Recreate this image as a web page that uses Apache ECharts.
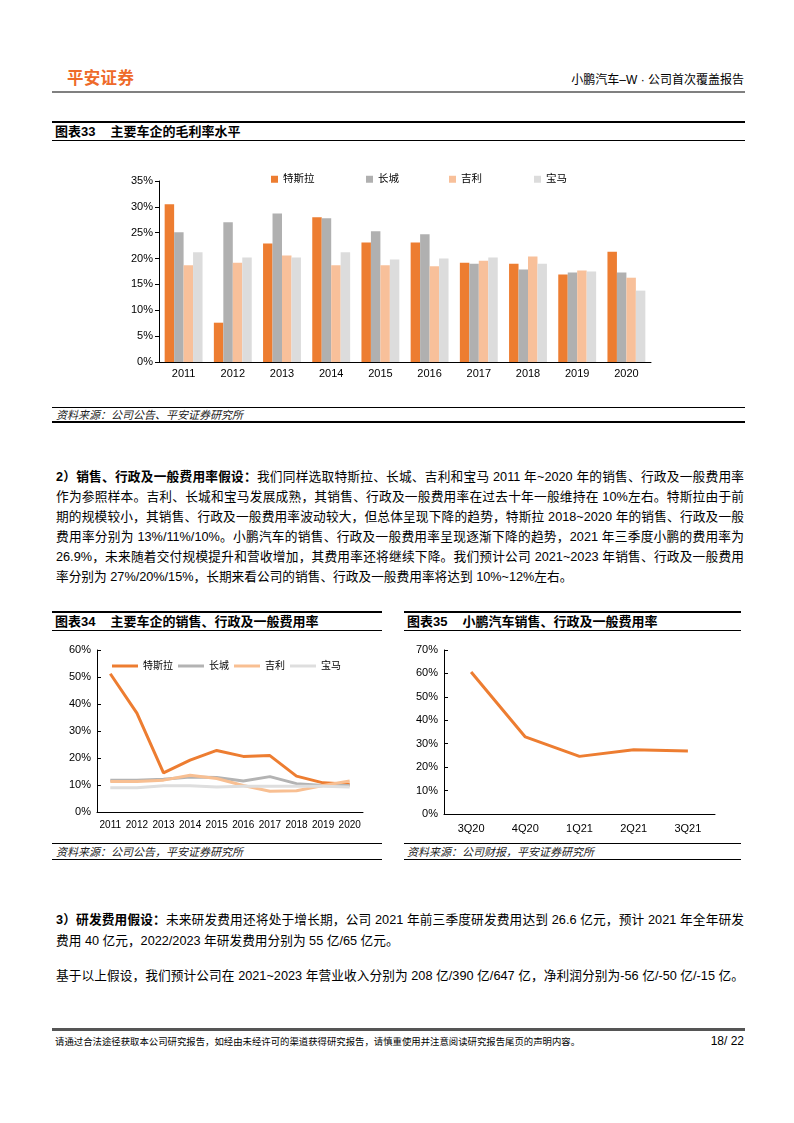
<!DOCTYPE html>
<html><head><meta charset="utf-8">
<script src="https://cdn.jsdelivr.net/npm/echarts@6/dist/echarts.min.js"></script>
<style>
body{margin:0;background:#fff;width:794px;height:1123px;position:relative;overflow:hidden;font-family:"Liberation Sans",Arial,"Noto Sans CJK SC",sans-serif;color:#000}
.a{position:absolute}
.ln{position:absolute;background:#000}
.ttl{position:absolute;font-size:13px;font-weight:bold;line-height:15px;white-space:nowrap}
.ttl span{display:inline-block;width:15px}
.src{position:absolute;font-size:11px;font-style:italic;line-height:13px;color:#222;white-space:nowrap}
.pl{position:absolute;left:56px;width:688px;font-size:12.7px;line-height:16px;white-space:nowrap;text-align:justify;text-align-last:justify}
.pl.last{text-align:left;text-align-last:left}
</style></head>
<body>
<div class="a" style="left:67px;top:68px;font-size:16.5px;font-weight:bold;color:#EE6A2A;line-height:20px;letter-spacing:0.3px">平安证券</div>
<div class="a" style="right:50px;top:73px;font-size:12px;line-height:14px;white-space:nowrap">小鹏汽车–W · 公司首次覆盖报告</div>
<div class="ln" style="left:52px;width:693px;top:91px;height:2px;background:#808080"></div>

<div class="ln" style="left:52px;width:693px;top:121px;height:2px"></div>
<div class="ttl" style="left:55px;top:124px">图表33<span></span>主要车企的毛利率水平</div>
<div class="ln" style="left:52px;width:693px;top:140px;height:1px"></div>
<div id="c33" class="a" style="left:52px;top:150px;width:700px;height:240px"></div>
<div class="ln" style="left:52px;width:693px;top:407px;height:1px"></div>
<div class="src" style="left:56px;top:409px">资料来源：公司公告、平安证券研究所</div>
<div class="ln" style="left:52px;width:693px;top:421px;height:2px"></div>

<div class="pl" style="top:469px"><b>2）销售、行政及一般费用率假设：</b>我们同样选取特斯拉、长城、吉利和宝马 2011 年~2020 年的销售、行政及一般费用率</div>
<div class="pl" style="top:489px">作为参照样本。吉利、长城和宝马发展成熟，其销售、行政及一般费用率在过去十年一般维持在 10%左右。特斯拉由于前</div>
<div class="pl" style="top:509px">期的规模较小，其销售、行政及一般费用率波动较大，但总体呈现下降的趋势，特斯拉 2018~2020 年的销售、行政及一般</div>
<div class="pl" style="top:529px">费用率分别为 13%/11%/10%。小鹏汽车的销售、行政及一般费用率呈现逐渐下降的趋势，2021 年三季度小鹏的费用率为</div>
<div class="pl" style="top:549px">26.9%，未来随着交付规模提升和营收增加，其费用率还将继续下降。我们预计公司 2021~2023 年销售、行政及一般费用</div>
<div class="pl last" style="top:569px">率分别为 27%/20%/15%，长期来看公司的销售、行政及一般费用率将达到 10%~12%左右。</div>

<div class="ln" style="left:52px;width:330px;top:611px;height:2px"></div>
<div class="ttl" style="left:55px;top:614px">图表34<span></span>主要车企的销售、行政及一般费用率</div>
<div class="ln" style="left:52px;width:330px;top:630px;height:1px"></div>
<div class="ln" style="left:404px;width:337px;top:611px;height:2px"></div>
<div class="ttl" style="left:407px;top:614px">图表35<span></span>小鹏汽车销售、行政及一般费用率</div>
<div class="ln" style="left:404px;width:337px;top:630px;height:1px"></div>
<div id="c34" class="a" style="left:52px;top:640px;width:330px;height:200px"></div>
<div id="c35" class="a" style="left:400px;top:640px;width:345px;height:200px"></div>
<div class="ln" style="left:52px;width:330px;top:843px;height:1px"></div>
<div class="src" style="left:56px;top:846px">资料来源：公司公告，平安证券研究所</div>
<div class="ln" style="left:52px;width:330px;top:859px;height:1px"></div>
<div class="ln" style="left:404px;width:337px;top:843px;height:1px"></div>
<div class="src" style="left:407px;top:846px">资料来源：公司财报，平安证券研究所</div>
<div class="ln" style="left:404px;width:337px;top:859px;height:1px"></div>

<div class="pl" style="top:912px"><b>3）研发费用假设：</b>未来研发费用还将处于增长期，公司 2021 年前三季度研发费用达到 26.6 亿元，预计 2021 年全年研发</div>
<div class="pl last" style="top:933px">费用 40 亿元，2022/2023 年研发费用分别为 55 亿/65 亿元。</div>
<div class="pl" style="top:968px">基于以上假设，我们预计公司在 2021~2023 年营业收入分别为 208 亿/390 亿/647 亿，净利润分别为-56 亿/-50 亿/-15 亿。</div>

<div class="ln" style="left:52px;width:693px;top:1028px;height:3px;background:#555"></div>
<div class="a" style="left:55px;top:1036px;font-size:9.4px;line-height:11px;white-space:nowrap">请通过合法途径获取本公司研究报告，如经由未经许可的渠道获得研究报告，请慎重使用并注意阅读研究报告尾页的声明内容。</div>
<div class="a" style="right:50px;top:1034px;font-size:12px;line-height:14px;white-space:nowrap">18/ 22</div>

<script>
// ---- data ----
const years = ['2011','2012','2013','2014','2015','2016','2017','2018','2019','2020'];
const seriesNames = ['特斯拉','长城','吉利','宝马'];
// 图表33 毛利率 (%)
const tesla33 = [30.5, 7.6, 22.9, 28.0, 23.1, 23.1, 19.2, 19.0, 16.9, 21.3];
const gw33    = [25.1, 27.0, 28.7, 27.8, 25.3, 24.7, 19.0, 17.9, 17.3, 17.3];
const geely33 = [18.7, 19.2, 20.6, 18.7, 18.7, 18.5, 19.6, 20.4, 17.7, 16.3];
const bmw33   = [21.2, 20.2, 20.2, 21.2, 19.8, 20.0, 20.2, 19.0, 17.5, 13.8];
// 图表34 销售、行政及一般费用率 (%)
const tesla34 = [51.2, 36.6, 14.5, 19.2, 22.8, 20.6, 20.9, 13.3, 10.8, 10.3];
const gw34    = [11.8, 11.8, 12.1, 13.0, 12.8, 11.5, 13.1, 10.5, 9.8, 9.8];
const geely34 = [11.3, 11.3, 11.8, 13.6, 12.4, 9.8, 7.7, 7.9, 9.8, 11.5];
const bmw34   = [9.0, 9.0, 9.7, 9.7, 9.3, 9.5, 9.5, 9.5, 9.5, 9.3];
// 图表35 小鹏汽车
const quarters = ['3Q20','4Q20','1Q21','2Q21','3Q21'];
const xpeng35  = [60.6, 32.9, 24.6, 27.4, 26.9];

const barColors = ['#ED7D31','#B0B0B0','#F8C09A','#DCDCDC'];
const lineColors = ['#ED7D31','#B3B3B3','#F8BF92','#DEDEDE'];
const FF = '"Liberation Sans", Arial, "Noto Sans CJK SC", sans-serif';

function yAx(max, inside){
  return {type:'value',min:0,max:max,interval:10,
    axisLine:{show:true,lineStyle:{color:'#000',width:1}},
    axisTick:{show:true,inside:inside,length:4,lineStyle:{color:'#000'}},
    splitLine:{show:false},
    axisLabel:{formatter:'{value}%',color:'#000',fontSize:11,margin:6,fontFamily:FF}};
}

// Chart 33 - one legend per item to reproduce the evenly spaced slots
const c33 = echarts.init(document.getElementById('c33'));
const d33 = [tesla33, gw33, geely33, bmw33];
const leg33Left = [214, 309, 392, 477];
c33.setOption({
  animation:false,
  textStyle:{fontFamily:FF},
  legend:seriesNames.map((n,i)=>({top:19,left:leg33Left[i],icon:'rect',itemWidth:7,itemHeight:7,
    textStyle:{fontSize:10.5,color:'#000',fontFamily:FF},data:[n]})),
  grid:{left:107,top:31,width:492,height:181},
  xAxis:{type:'category',data:years,
    axisLine:{lineStyle:{color:'#000'}},
    axisTick:{length:4,lineStyle:{color:'#000'}},
    axisLabel:{color:'#000',fontSize:11,margin:6,fontFamily:FF}},
  yAxis:Object.assign(yAx(35,false),{interval:5}),
  series:seriesNames.map((n,i)=>({type:'bar',name:n,data:d33[i],
    itemStyle:{color:barColors[i]},barGap:'0%',barCategoryGap:'23%'}))
});

// Chart 34
const c34 = echarts.init(document.getElementById('c34'));
const d34 = [tesla34, gw34, geely34, bmw34];
c34.setOption({
  animation:false,
  textStyle:{fontFamily:FF},
  legend:{top:16,left:55,icon:'rect',itemWidth:26,itemHeight:3,itemGap:5,
    textStyle:{fontSize:10,color:'#000',fontFamily:FF},data:seriesNames},
  grid:{left:45,top:10,width:266,height:162},
  xAxis:{type:'category',data:years,
    axisLine:{lineStyle:{color:'#000'}},
    axisTick:{inside:true,length:4,lineStyle:{color:'#000'}},
    axisLabel:{color:'#000',fontSize:10,margin:8,fontFamily:FF,interval:0}},
  yAxis:yAx(60,true),
  series:seriesNames.map((n,i)=>({type:'line',name:n,data:d34[i],symbol:'none',
    lineStyle:{color:lineColors[i],width:3},itemStyle:{color:lineColors[i]}}))
});

// Chart 35
const c35 = echarts.init(document.getElementById('c35'));
c35.setOption({
  animation:false,
  textStyle:{fontFamily:FF},
  grid:{left:44,top:10,width:271,height:164},
  xAxis:{type:'category',data:quarters,
    axisLine:{lineStyle:{color:'#000'}},
    axisTick:{inside:true,length:4,lineStyle:{color:'#000'}},
    axisLabel:{color:'#000',fontSize:11,margin:9,fontFamily:FF}},
  yAxis:yAx(70,true),
  series:[{type:'line',name:'小鹏汽车',data:xpeng35,symbol:'none',
    lineStyle:{color:'#ED7D31',width:3},itemStyle:{color:'#ED7D31'}}]
});
</script>
</body></html>
